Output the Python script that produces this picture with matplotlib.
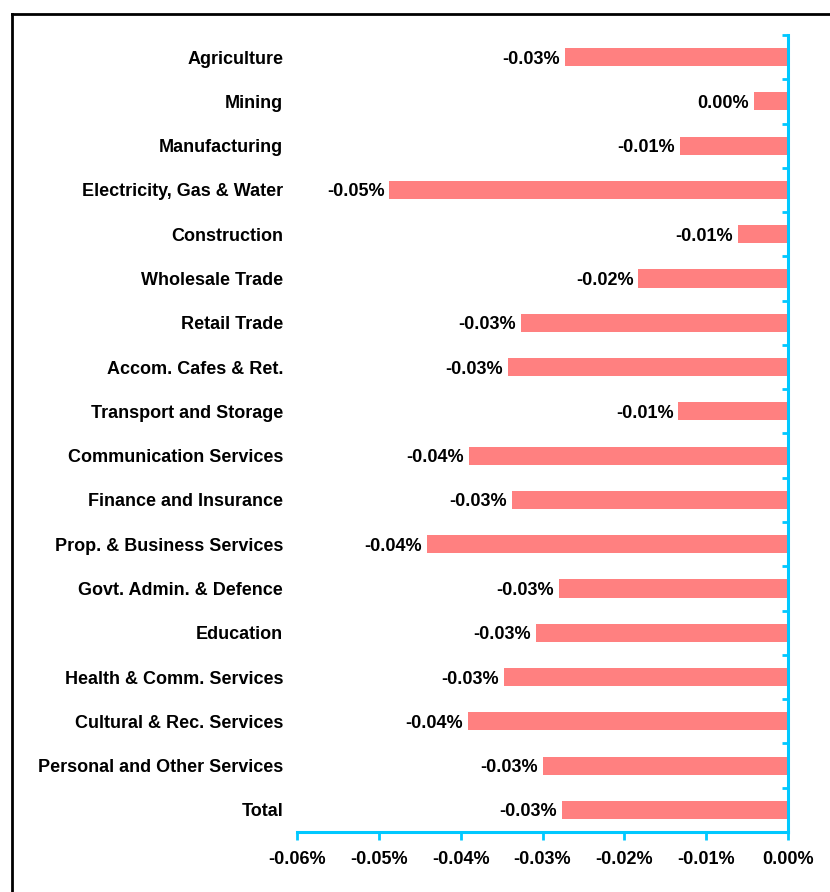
import matplotlib
matplotlib.use("Agg")
import matplotlib.pyplot as plt
from matplotlib.lines import Line2D
import numpy as np

categories = ["Agriculture", "Mining", "Manufacturing", "Electricity, Gas & Water",
              "Construction", "Wholesale Trade", "Retail Trade", "Accom. Cafes & Ret.",
              "Transport and Storage", "Communication Services", "Finance and Insurance",
              "Prop. & Business Services", "Govt. Admin. & Defence", "Education",
              "Health & Comm. Services", "Cultural & Rec. Services",
              "Personal and Other Services", "Total"]
values = [-0.0273, -0.0042, -0.0132, -0.0487, -0.0061, -0.0183, -0.0326, -0.0342,
          -0.0134, -0.0390, -0.0337, -0.0441, -0.0280, -0.0308, -0.0347, -0.0391,
          -0.0300, -0.0276]
xticks = [-0.06, -0.05, -0.04, -0.03, -0.02, -0.01, 0.0]

plt.rcParams['font.family'] = ['Liberation Sans', 'DejaVu Sans']
plt.rcParams['font.weight'] = 'bold'

W, H = 830, 892
fig = plt.figure(figsize=(W/100, H/100), dpi=100)
ax = fig.add_axes([297/W, (H-832)/H, 491/W, 797/H])

cyan = '#00C8FF'
bar_color = '#FF8080'
fs = 13

n = len(categories)
pos = np.arange(n)[::-1]
ax.barh(pos, values, height=0.41, color=bar_color, zorder=2)

def fmt(v):
    s = f"{v:.2f}"
    if s == "-0.00":
        s = "0.00"
    return s + "%"

for p, v in zip(pos, values):
    ax.annotate(fmt(v), xy=(v, p), xytext=(-3.5, 0), textcoords='offset points',
                ha='right', va='center_baseline', fontsize=fs, fontweight='bold',
                color='black')

ax.set_xlim(-0.06, 0.0)
ax.set_ylim(-0.5, n - 0.5)
ax.set_xticks(xticks)
ax.set_xticklabels([f"{t:.2f}%" for t in xticks], fontsize=fs, fontweight='bold')
ax.set_yticks(pos)
ax.set_yticklabels(categories, fontsize=fs, fontweight='bold', va='center_baseline')
ax.set_yticks(np.arange(n) + 0.5, minor=True)

ax.tick_params(axis='y', which='major', left=False, right=False, pad=6.5)
ax.tick_params(axis='y', which='minor', left=False, right=True, direction='in',
               length=4.5, width=2, color=cyan)
ax.tick_params(axis='x', which='major', bottom=True, direction='out', length=6,
               width=2, color=cyan, pad=8)

for s in ['top', 'left']:
    ax.spines[s].set_visible(False)
for s in ['right', 'bottom']:
    ax.spines[s].set_color(cyan)
    ax.spines[s].set_linewidth(2.2)
    ax.spines[s].set_zorder(3)

# outer frame (top and left visible)
fig.add_artist(Line2D([11.5/W, 11.5/W], [0, 1 - 13.5/H], transform=fig.transFigure,
                      color='black', linewidth=2))
fig.add_artist(Line2D([11.5/W, 1], [1 - 13.5/H, 1 - 13.5/H], transform=fig.transFigure,
                      color='black', linewidth=2))

fig.savefig("out.png", dpi=100)
